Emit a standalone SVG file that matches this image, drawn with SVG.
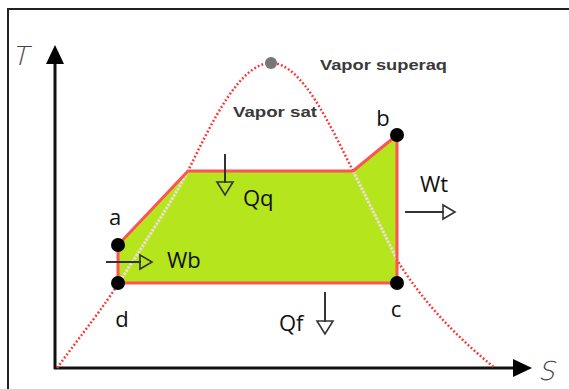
<svg xmlns="http://www.w3.org/2000/svg" width="569" height="389" viewBox="0 0 569 389">
<defs>
<style>
.lbl{font-family:"Open Sans","Liberation Sans",sans-serif;font-size:22px;fill:#111}
.note{font-family:"Liberation Sans","DejaVu Sans",sans-serif;font-size:15px;font-weight:bold;fill:#3a3a3a}
.ax{font-family:"DejaVu Sans ExtraLight","DejaVu Sans Light","DejaVu Sans",sans-serif;font-style:italic;font-weight:200;fill:#444}
.dome{fill:none;stroke:#ff3030;stroke-width:2.5;stroke-dasharray:1.8 2.2;stroke-linecap:butt}
.domein{fill:none;stroke:#efdcdc;stroke-width:3;stroke-dasharray:2.5 1.2}
.cyc{fill:none;stroke:#ff5252;stroke-width:3;stroke-linejoin:round}
.pt{fill:#000}
.shaft{stroke:#333;stroke-width:2;fill:none}
.head{stroke:#333;stroke-width:1.6;fill:none;stroke-linejoin:miter}
</style>
</defs>
<rect width="569" height="389" fill="#fff"/>
<path d="M8,389 V9 H569" fill="none" stroke="#222" stroke-width="2"/>

<g id="axes">
<line x1="55" y1="369" x2="55" y2="60" stroke="#111" stroke-width="3"/>
<polygon points="55,45 46,64 64,64" fill="#000"/>
<line x1="54" y1="368" x2="516" y2="368" stroke="#111" stroke-width="3"/>
<polygon points="532,368 513,359 513,377" fill="#000"/>
<text class="ax" x="12" y="65" font-size="26">T</text>
<text class="ax" x="538" y="380" font-size="26">S</text>
</g>

<g id="dome">
<path class="dome" d="M57,368 C85,330 105,305 118,284 C140,250 170,205 188,171 C212,122 240,63 271,63 C302,63 330,125 353,171 C370,205 385,235 397,260 C425,305 460,340 495,368"/>
</g>

<g id="cycle-area">
<polygon points="118,245 188,171 353,171 397,135 397,283 118,283" fill="#b5e51d"/>
<path class="domein" d="M118,284 C140,250 170,205 188,171"/>
<path class="domein" d="M353,171 C370,205 385,235 397,260"/>
</g>

<g id="connectors">
<polyline class="cyc" points="118,245 188,171 353,171 397,135 397,283 118,283 118,245"/>
</g>

<g id="peak"><circle cx="271" cy="63" r="6" fill="#777"/></g>
<g id="node-a"><circle class="pt" cx="118" cy="245" r="7"/><text class="lbl" x="115" y="225" text-anchor="middle">a</text></g>
<g id="node-b"><circle class="pt" cx="397" cy="135" r="7"/><text class="lbl" x="383" y="126" text-anchor="middle">b</text></g>
<g id="node-c"><circle class="pt" cx="397" cy="283" r="7"/><text class="lbl" x="396" y="317" text-anchor="middle">c</text></g>
<g id="node-d"><circle class="pt" cx="118" cy="283" r="7"/><text class="lbl" x="122" y="327" text-anchor="middle">d</text></g>

<g id="label-superaq"><text class="note" x="320" y="70" textLength="127" lengthAdjust="spacingAndGlyphs">Vapor superaq</text></g>
<g id="label-sat"><text class="note" x="233" y="117" textLength="84" lengthAdjust="spacingAndGlyphs">Vapor sat</text></g>

<g id="arrow-Qq">
<line class="shaft" x1="225" y1="154" x2="225" y2="183"/>
<polygon class="head" points="217,182 233,182 225,195"/>
<text class="lbl" x="243" y="206">Qq</text>
</g>
<g id="arrow-Wb">
<line class="shaft" x1="106" y1="262" x2="141" y2="262"/>
<polygon class="head" points="140,255 140,269 152,262"/>
<text class="lbl" x="167" y="268">Wb</text>
</g>
<g id="arrow-Wt">
<line class="shaft" x1="405" y1="212" x2="444" y2="212"/>
<polygon class="head" points="443,205 443,219 455,212"/>
<text class="lbl" x="420" y="192">Wt</text>
</g>
<g id="arrow-Qf">
<line class="shaft" x1="325" y1="292" x2="325" y2="322"/>
<polygon class="head" points="317,321 333,321 325,334"/>
<text class="lbl" x="279" y="331">Qf</text>
</g>
</svg>
